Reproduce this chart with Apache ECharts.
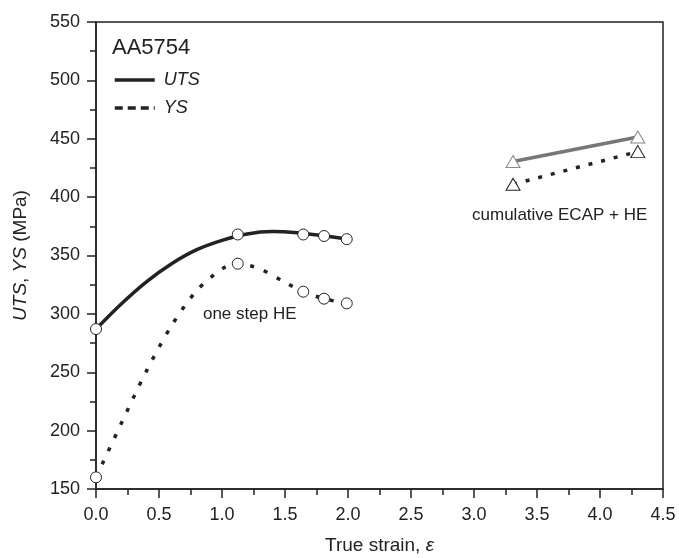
<!DOCTYPE html>
<html>
<head>
<meta charset="utf-8">
<script src="https://cdn.jsdelivr.net/npm/echarts@6/dist/echarts.min.js"></script>
<style>
  html, body { margin: 0; padding: 0; background: #fff; }
  #chart { width: 679px; height: 558px; }
</style>
</head>
<body>
<div id="chart"></div>
<script>
// measured points, one step HE
const strainPts = [0, 1.125, 1.645, 1.81, 1.99];
const utsPts = [287, 368, 368, 366.7, 364];
const ysPts = [160, 343, 319, 313, 309];

// fitted curves
const utsFitX = [0, 0.2, 0.4, 0.6, 0.8, 1.0, 1.2, 1.4, 1.6, 1.8, 2.0];
const utsFitY = [287, 308.5, 327.5, 343, 355, 363, 368.5, 370.5, 369.5, 367, 364];
const ysFitX = [0, 0.2, 0.4, 0.6, 0.8, 1.0, 1.125, 1.3, 1.5, 1.645, 1.81, 1.99];
const ysFitY = [160, 206, 251, 290, 320, 338.5, 343, 338.5, 327, 319, 313, 309];

// cumulative ECAP + HE
const ecapStrain = [3.31, 4.3];
const ecapUts = [430.5, 451.5];
const ecapYs = [411, 439];

// annotations [x, y, text]
const notes = [
  [1.22, 300, "one step HE"],
  [3.68, 384.5, "cumulative ECAP + HE"]
];

const FONT = "Liberation Sans, Arial, Helvetica, sans-serif";
const INK = "#222";

const zip = (xs, ys) => xs.map((x, i) => [x, ys[i]]);

const chart = echarts.init(document.getElementById("chart"));

const openCircle = {
  type: "scatter",
  symbol: "circle",
  symbolSize: 11,
  itemStyle: { color: "#fff", borderColor: INK, borderWidth: 1, opacity: 1 },
  z: 5
};

// legend shows the line only
const noMarker = { color: "rgba(0,0,0,0)", borderWidth: 0, opacity: 0 };

const option = {
  animation: false,
  textStyle: { fontFamily: FONT },
  title: {
    text: "AA5754",
    left: 112,
    top: 37,
    padding: 0,
    textStyle: { fontFamily: FONT, fontSize: 22, fontWeight: "normal", color: INK }
  },
  legend: {
    left: 113,
    top: 71,
    orient: "vertical",
    itemWidth: 40,
    itemHeight: 14,
    itemGap: 10,
    padding: 0,
    textStyle: { fontFamily: FONT, fontSize: 18, fontStyle: "italic", color: INK, padding: [0, 0, 0, 4] },
    data: [
      { name: "UTS", itemStyle: noMarker, lineStyle: { width: 3.5, color: INK, type: "solid" } },
      { name: "YS", itemStyle: noMarker, lineStyle: { width: 3.5, color: INK, type: [8, 5] } }
    ]
  },
  grid: {
    left: 96, right: 16, top: 22, bottom: 69,
    containLabel: false, outerBoundsMode: "none",
    show: true, borderColor: INK, borderWidth: 1.5
  },
  xAxis: {
    type: "value",
    min: 0,
    max: 4.5,
    interval: 0.5,
    name: "True strain, {i|ε}",
    nameLocation: "middle",
    nameGap: 47,
    nameTextStyle: {
      fontFamily: FONT, fontSize: 19, color: INK,
      rich: { i: { fontFamily: FONT, fontSize: 19, fontStyle: "italic", color: INK } }
    },
    axisLine: { lineStyle: { color: INK, width: 1.5 } },
    axisTick: { length: 9, lineStyle: { color: INK, width: 1.5 } },
    minorTick: { show: true, splitNumber: 2, length: 6, lineStyle: { color: INK, width: 1.5 } },
    axisLabel: {
      margin: 17, fontFamily: FONT, fontSize: 18, color: INK,
      formatter: v => v.toFixed(1)
    },
    splitLine: { show: false }
  },
  yAxis: {
    type: "value",
    min: 150,
    max: 550,
    interval: 50,
    name: "{i|UTS}, {i|YS} (MPa)",
    nameLocation: "middle",
    nameGap: 66,
    nameTextStyle: {
      fontFamily: FONT, fontSize: 19, color: INK,
      rich: { i: { fontFamily: FONT, fontSize: 19, fontStyle: "italic", color: INK } }
    },
    axisLine: { show: true, lineStyle: { color: INK, width: 1.5 } },
    axisTick: { show: true, length: 9, lineStyle: { color: INK, width: 1.5 } },
    minorTick: { show: true, splitNumber: 2, length: 6, lineStyle: { color: INK, width: 1.5 } },
    axisLabel: { margin: 16, fontFamily: FONT, fontSize: 18, color: INK },
    splitLine: { show: false }
  },
  series: [
    {
      name: "UTS",
      type: "line",
      data: zip(utsFitX, utsFitY),
      smooth: 0.3,
      symbol: "none",
      lineStyle: { color: INK, width: 3.5 },
      itemStyle: { color: INK },
      z: 3
    },
    {
      name: "YS",
      type: "line",
      data: zip(ysFitX, ysFitY),
      smooth: 0.3,
      symbol: "none",
      lineStyle: { color: INK, width: 3.5, type: [4, 10.5] },
      itemStyle: { color: INK },
      z: 3
    },
    Object.assign({ name: "UTS points", data: zip(strainPts, utsPts) }, openCircle),
    Object.assign({ name: "YS points", data: zip(strainPts, ysPts) }, openCircle),
    {
      name: "ECAP UTS",
      type: "line",
      data: zip(ecapStrain, ecapUts),
      symbol: "triangle",
      symbolSize: [14, 12],
      showAllSymbol: true,
      lineStyle: { color: "#777", width: 3.5 },
      itemStyle: { color: "#fff", borderColor: "#888", borderWidth: 1, opacity: 1 },
      z: 4
    },
    {
      name: "ECAP YS",
      type: "line",
      data: zip(ecapStrain, ecapYs),
      symbol: "triangle",
      symbolSize: [14, 12],
      showAllSymbol: true,
      lineStyle: { color: INK, width: 3.5, type: [4, 9] },
      itemStyle: { color: "#fff", borderColor: INK, borderWidth: 1, opacity: 1 },
      z: 4
    },
    {
      name: "notes",
      type: "scatter",
      symbolSize: 0,
      silent: true,
      itemStyle: { opacity: 1 },
      data: notes.map(n => ({ value: [n[0], n[1]], name: n[2] })),
      label: {
        show: true,
        position: "inside",
        formatter: p => p.name,
        fontFamily: FONT,
        fontSize: 17,
        color: INK
      },
      z: 6
    }
  ]
};

chart.setOption(option);
</script>
</body>
</html>
